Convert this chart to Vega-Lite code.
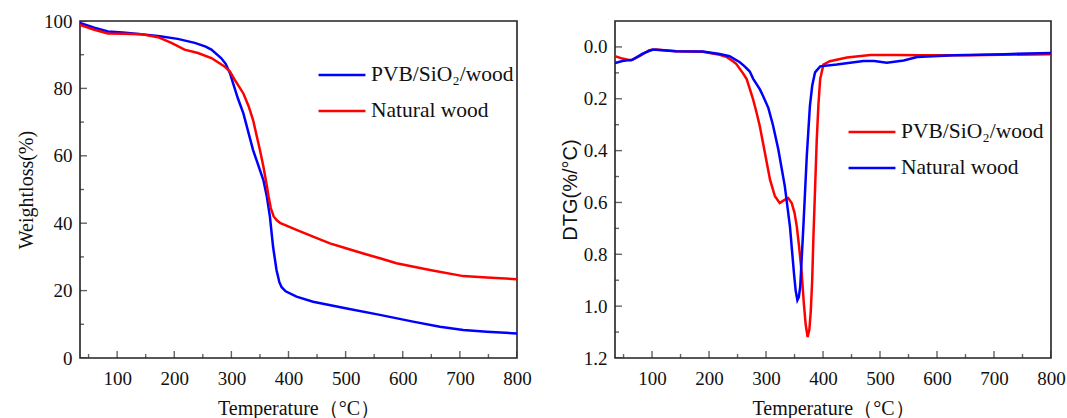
{
  "$schema": "https://vega.github.io/schema/vega-lite/v6.json",
  "background": "white",
  "padding": {"left": 15, "top": 11, "right": 5, "bottom": 0},
  "config": {
    "view": {"stroke": "#222", "strokeWidth": 1.6},
    "font": "Liberation Serif",
    "axis": {"domain": false, "ticks": false, "labelFont": "Liberation Serif", "labelFontSize": 19, "labelColor": "#111", "titleFont": "Liberation Serif", "titleFontSize": 20, "titleFontWeight": "normal", "titleColor": "#111", "grid": false, "labelOverlap": false, "labelFlush": false},
    "legend": {"title": null, "orient": "none", "symbolType": "stroke", "symbolStrokeWidth": 2.5, "symbolSize": 2200, "labelFont": "Liberation Serif", "labelFontSize": 21.5, "labelColor": "#111", "labelOffset": 4, "rowPadding": 0, "padding": 0, "labelLimit": 300}
  },
  "datasets": {
    "xticks": [{"T": 50}, {"T": 100}, {"T": 150}, {"T": 200}, {"T": 250}, {"T": 300}, {"T": 350}, {"T": 400}, {"T": 450}, {"T": 500}, {"T": 550}, {"T": 600}, {"T": 650}, {"T": 700}, {"T": 750}, {"T": 800}],
    "wticks": [{"W": 0}, {"W": 10}, {"W": 20}, {"W": 30}, {"W": 40}, {"W": 50}, {"W": 60}, {"W": 70}, {"W": 80}, {"W": 90}, {"W": 100}],
    "vticks": [{"v": 0}, {"v": 0.1}, {"v": 0.2}, {"v": 0.3}, {"v": 0.4}, {"v": 0.5}, {"v": 0.6}, {"v": 0.7}, {"v": 0.8}, {"v": 0.9}, {"v": 1.0}, {"v": 1.1}, {"v": 1.2}],
    "tga": [
      {"T": 35, "W": 99.4, "s": "PVB/SiO₂/wood"}, {"T": 60, "W": 98.0, "s": "PVB/SiO₂/wood"}, {"T": 84, "W": 96.9, "s": "PVB/SiO₂/wood"}, {"T": 110, "W": 96.6, "s": "PVB/SiO₂/wood"}, {"T": 142, "W": 96.1, "s": "PVB/SiO₂/wood"}, {"T": 175, "W": 95.5, "s": "PVB/SiO₂/wood"}, {"T": 206, "W": 94.7, "s": "PVB/SiO₂/wood"}, {"T": 236, "W": 93.5, "s": "PVB/SiO₂/wood"}, {"T": 255, "W": 92.4, "s": "PVB/SiO₂/wood"}, {"T": 265, "W": 91.5, "s": "PVB/SiO₂/wood"}, {"T": 282, "W": 89.0, "s": "PVB/SiO₂/wood"}, {"T": 290, "W": 87.3, "s": "PVB/SiO₂/wood"}, {"T": 297.5, "W": 84.5, "s": "PVB/SiO₂/wood"}, {"T": 304, "W": 81.0, "s": "PVB/SiO₂/wood"}, {"T": 311.5, "W": 77.0, "s": "PVB/SiO₂/wood"}, {"T": 321, "W": 72.6, "s": "PVB/SiO₂/wood"}, {"T": 338, "W": 61.7, "s": "PVB/SiO₂/wood"}, {"T": 356, "W": 52.8, "s": "PVB/SiO₂/wood"}, {"T": 362, "W": 48.0, "s": "PVB/SiO₂/wood"}, {"T": 367.5, "W": 41.9, "s": "PVB/SiO₂/wood"}, {"T": 373, "W": 33.0, "s": "PVB/SiO₂/wood"}, {"T": 379, "W": 26.1, "s": "PVB/SiO₂/wood"}, {"T": 384, "W": 22.5, "s": "PVB/SiO₂/wood"}, {"T": 388, "W": 21.0, "s": "PVB/SiO₂/wood"}, {"T": 395, "W": 19.8, "s": "PVB/SiO₂/wood"}, {"T": 414, "W": 18.2, "s": "PVB/SiO₂/wood"}, {"T": 443, "W": 16.7, "s": "PVB/SiO₂/wood"}, {"T": 502, "W": 14.7, "s": "PVB/SiO₂/wood"}, {"T": 560, "W": 12.8, "s": "PVB/SiO₂/wood"}, {"T": 618, "W": 10.8, "s": "PVB/SiO₂/wood"}, {"T": 665, "W": 9.3, "s": "PVB/SiO₂/wood"}, {"T": 706, "W": 8.3, "s": "PVB/SiO₂/wood"}, {"T": 747, "W": 7.8, "s": "PVB/SiO₂/wood"}, {"T": 800, "W": 7.3, "s": "PVB/SiO₂/wood"},
      {"T": 35, "W": 98.8, "s": "Natural wood"}, {"T": 60, "W": 97.4, "s": "Natural wood"}, {"T": 84, "W": 96.3, "s": "Natural wood"}, {"T": 110, "W": 96.2, "s": "Natural wood"}, {"T": 142, "W": 96.1, "s": "Natural wood"}, {"T": 171.5, "W": 95.2, "s": "Natural wood"}, {"T": 195, "W": 93.5, "s": "Natural wood"}, {"T": 218, "W": 91.5, "s": "Natural wood"}, {"T": 241.5, "W": 90.5, "s": "Natural wood"}, {"T": 265, "W": 89.0, "s": "Natural wood"}, {"T": 288, "W": 86.5, "s": "Natural wood"}, {"T": 297.5, "W": 85.0, "s": "Natural wood"}, {"T": 305.7, "W": 82.6, "s": "Natural wood"}, {"T": 321, "W": 78.5, "s": "Natural wood"}, {"T": 330, "W": 74.8, "s": "Natural wood"}, {"T": 338, "W": 70.6, "s": "Natural wood"}, {"T": 350, "W": 61.7, "s": "Natural wood"}, {"T": 356, "W": 56.8, "s": "Natural wood"}, {"T": 361.7, "W": 51.5, "s": "Natural wood"}, {"T": 365, "W": 48.0, "s": "Natural wood"}, {"T": 369, "W": 44.5, "s": "Natural wood"}, {"T": 374, "W": 42.0, "s": "Natural wood"}, {"T": 380, "W": 40.8, "s": "Natural wood"}, {"T": 386, "W": 40.0, "s": "Natural wood"}, {"T": 414, "W": 38.0, "s": "Natural wood"}, {"T": 443, "W": 36.0, "s": "Natural wood"}, {"T": 472.5, "W": 34.0, "s": "Natural wood"}, {"T": 502, "W": 32.5, "s": "Natural wood"}, {"T": 531, "W": 31.0, "s": "Natural wood"}, {"T": 560, "W": 29.6, "s": "Natural wood"}, {"T": 589, "W": 28.1, "s": "Natural wood"}, {"T": 647.5, "W": 26.1, "s": "Natural wood"}, {"T": 706, "W": 24.3, "s": "Natural wood"}, {"T": 747, "W": 23.9, "s": "Natural wood"}, {"T": 800, "W": 23.4, "s": "Natural wood"}
    ],
    "dtg": [
      {"T": 35, "v": 0.036, "s": "PVB/SiO₂/wood"}, {"T": 48, "v": 0.045, "s": "PVB/SiO₂/wood"}, {"T": 63, "v": 0.052, "s": "PVB/SiO₂/wood"}, {"T": 78, "v": 0.036, "s": "PVB/SiO₂/wood"}, {"T": 95, "v": 0.013, "s": "PVB/SiO₂/wood"}, {"T": 107, "v": 0.010, "s": "PVB/SiO₂/wood"}, {"T": 142, "v": 0.017, "s": "PVB/SiO₂/wood"}, {"T": 189, "v": 0.019, "s": "PVB/SiO₂/wood"}, {"T": 218.7, "v": 0.030, "s": "PVB/SiO₂/wood"}, {"T": 230, "v": 0.038, "s": "PVB/SiO₂/wood"}, {"T": 242, "v": 0.055, "s": "PVB/SiO₂/wood"}, {"T": 248, "v": 0.066, "s": "PVB/SiO₂/wood"}, {"T": 260, "v": 0.103, "s": "PVB/SiO₂/wood"}, {"T": 266, "v": 0.124, "s": "PVB/SiO₂/wood"}, {"T": 271.5, "v": 0.162, "s": "PVB/SiO₂/wood"}, {"T": 277, "v": 0.200, "s": "PVB/SiO₂/wood"}, {"T": 283, "v": 0.250, "s": "PVB/SiO₂/wood"}, {"T": 289, "v": 0.305, "s": "PVB/SiO₂/wood"}, {"T": 298, "v": 0.408, "s": "PVB/SiO₂/wood"}, {"T": 307, "v": 0.512, "s": "PVB/SiO₂/wood"}, {"T": 315.6, "v": 0.576, "s": "PVB/SiO₂/wood"}, {"T": 324, "v": 0.602, "s": "PVB/SiO₂/wood"}, {"T": 333, "v": 0.589, "s": "PVB/SiO₂/wood"}, {"T": 339, "v": 0.583, "s": "PVB/SiO₂/wood"}, {"T": 345, "v": 0.602, "s": "PVB/SiO₂/wood"}, {"T": 350, "v": 0.640, "s": "PVB/SiO₂/wood"}, {"T": 354, "v": 0.693, "s": "PVB/SiO₂/wood"}, {"T": 358, "v": 0.770, "s": "PVB/SiO₂/wood"}, {"T": 362.6, "v": 0.873, "s": "PVB/SiO₂/wood"}, {"T": 366, "v": 0.980, "s": "PVB/SiO₂/wood"}, {"T": 369.5, "v": 1.070, "s": "PVB/SiO₂/wood"}, {"T": 373, "v": 1.119, "s": "PVB/SiO₂/wood"}, {"T": 376, "v": 1.090, "s": "PVB/SiO₂/wood"}, {"T": 378.5, "v": 1.020, "s": "PVB/SiO₂/wood"}, {"T": 381, "v": 0.900, "s": "PVB/SiO₂/wood"}, {"T": 383, "v": 0.744, "s": "PVB/SiO₂/wood"}, {"T": 386, "v": 0.550, "s": "PVB/SiO₂/wood"}, {"T": 389, "v": 0.357, "s": "PVB/SiO₂/wood"}, {"T": 392, "v": 0.220, "s": "PVB/SiO₂/wood"}, {"T": 395, "v": 0.124, "s": "PVB/SiO₂/wood"}, {"T": 400.7, "v": 0.068, "s": "PVB/SiO₂/wood"}, {"T": 412, "v": 0.055, "s": "PVB/SiO₂/wood"}, {"T": 442, "v": 0.041, "s": "PVB/SiO₂/wood"}, {"T": 483, "v": 0.031, "s": "PVB/SiO₂/wood"}, {"T": 530, "v": 0.031, "s": "PVB/SiO₂/wood"}, {"T": 571, "v": 0.032, "s": "PVB/SiO₂/wood"}, {"T": 659, "v": 0.032, "s": "PVB/SiO₂/wood"}, {"T": 800, "v": 0.028, "s": "PVB/SiO₂/wood"},
      {"T": 35, "v": 0.062, "s": "Natural wood"}, {"T": 48, "v": 0.054, "s": "Natural wood"}, {"T": 66, "v": 0.049, "s": "Natural wood"}, {"T": 83.6, "v": 0.026, "s": "Natural wood"}, {"T": 101, "v": 0.010, "s": "Natural wood"}, {"T": 142, "v": 0.017, "s": "Natural wood"}, {"T": 189, "v": 0.018, "s": "Natural wood"}, {"T": 218.7, "v": 0.027, "s": "Natural wood"}, {"T": 236, "v": 0.036, "s": "Natural wood"}, {"T": 254, "v": 0.059, "s": "Natural wood"}, {"T": 262, "v": 0.074, "s": "Natural wood"}, {"T": 271.5, "v": 0.095, "s": "Natural wood"}, {"T": 277.5, "v": 0.123, "s": "Natural wood"}, {"T": 289, "v": 0.163, "s": "Natural wood"}, {"T": 295, "v": 0.190, "s": "Natural wood"}, {"T": 304, "v": 0.235, "s": "Natural wood"}, {"T": 312, "v": 0.300, "s": "Natural wood"}, {"T": 321.5, "v": 0.395, "s": "Natural wood"}, {"T": 333, "v": 0.538, "s": "Natural wood"}, {"T": 342, "v": 0.693, "s": "Natural wood"}, {"T": 349, "v": 0.873, "s": "Natural wood"}, {"T": 352, "v": 0.940, "s": "Natural wood"}, {"T": 355, "v": 0.977, "s": "Natural wood"}, {"T": 357.5, "v": 0.965, "s": "Natural wood"}, {"T": 360, "v": 0.925, "s": "Natural wood"}, {"T": 365.5, "v": 0.693, "s": "Natural wood"}, {"T": 371.5, "v": 0.421, "s": "Natural wood"}, {"T": 377, "v": 0.227, "s": "Natural wood"}, {"T": 381, "v": 0.150, "s": "Natural wood"}, {"T": 386, "v": 0.098, "s": "Natural wood"}, {"T": 395, "v": 0.075, "s": "Natural wood"}, {"T": 424, "v": 0.068, "s": "Natural wood"}, {"T": 471, "v": 0.054, "s": "Natural wood"}, {"T": 490, "v": 0.054, "s": "Natural wood"}, {"T": 512, "v": 0.061, "s": "Natural wood"}, {"T": 541.6, "v": 0.052, "s": "Natural wood"}, {"T": 565, "v": 0.039, "s": "Natural wood"}, {"T": 630, "v": 0.032, "s": "Natural wood"}, {"T": 718, "v": 0.028, "s": "Natural wood"}, {"T": 800, "v": 0.023, "s": "Natural wood"}
    ]
  },
  "spacing": 98,
  "bounds": "flush",
  "resolve": {"scale": {"color": "independent"}},
  "hconcat": [
    {
      "width": 437,
      "height": 337,
      "layer": [
        {
          "data": {"name": "tga"},
          "mark": {"type": "line", "strokeWidth": 2.5, "clip": true},
          "encoding": {
            "x": {"field": "T", "type": "quantitative", "scale": {"domain": [35, 800], "nice": false, "zero": false},
              "axis": {"title": "Temperature（°C）", "values": [100, 200, 300, 400, 500, 600, 700, 800], "labelPadding": 11, "titlePadding": 10}},
            "y": {"field": "W", "type": "quantitative", "scale": {"domain": [0, 100], "nice": false},
              "axis": {"title": "Weightloss(%)", "values": [0, 20, 40, 60, 80, 100], "labelPadding": 8, "titlePadding": 7}},
            "color": {"field": "s", "type": "nominal", "scale": {"domain": ["PVB/SiO₂/wood", "Natural wood"], "range": ["#0000ff", "#ff0000"]},
              "legend": {"legendX": 237, "legendY": 29}}
          }
        },
        {
          "data": {"name": "xticks"},
          "mark": {"type": "tick", "orient": "vertical", "thickness": 1.4, "color": "#222", "clip": true},
          "encoding": {
            "x": {"field": "T", "type": "quantitative",
              "axis": {"title": "Temperature（°C）", "values": [100, 200, 300, 400, 500, 600, 700, 800], "labelPadding": 11, "titlePadding": 10}},
            "y": {"datum": 0, "type": "quantitative",
              "axis": {"title": "Weightloss(%)", "values": [0, 20, 40, 60, 80, 100], "labelPadding": 8, "titlePadding": 7}},
            "size": {"condition": {"test": "datum.T % 100 === 0", "value": 14}, "value": 8}
          }
        },
        {
          "data": {"name": "wticks"},
          "mark": {"type": "tick", "orient": "horizontal", "thickness": 1.4, "color": "#222", "clip": true},
          "encoding": {
            "y": {"field": "W", "type": "quantitative",
              "axis": {"title": "Weightloss(%)", "values": [0, 20, 40, 60, 80, 100], "labelPadding": 8, "titlePadding": 7}},
            "x": {"datum": 35, "type": "quantitative",
              "axis": {"title": "Temperature（°C）", "values": [100, 200, 300, 400, 500, 600, 700, 800], "labelPadding": 11, "titlePadding": 10}},
            "size": {"condition": {"test": "datum.W % 20 === 0", "value": 14}, "value": 8}
          }
        }
      ]
    },
    {
      "width": 436,
      "height": 337,
      "layer": [
        {
          "data": {"name": "dtg"},
          "mark": {"type": "line", "strokeWidth": 2.5, "clip": true},
          "encoding": {
            "x": {"field": "T", "type": "quantitative", "scale": {"domain": [35, 800], "nice": false, "zero": false},
              "axis": {"title": "Temperature（°C）", "values": [100, 200, 300, 400, 500, 600, 700, 800], "labelPadding": 11, "titlePadding": 10}},
            "y": {"field": "v", "type": "quantitative", "scale": {"domain": [-0.1, 1.2], "nice": false, "zero": false, "reverse": true},
              "axis": {"title": "DTG(%/°C)", "titleFont": "Liberation Sans", "values": [0, 0.2, 0.4, 0.6, 0.8, 1.0, 1.2], "format": ".1f", "labelPadding": 8, "titlePadding": 3}},
            "color": {"field": "s", "type": "nominal", "scale": {"domain": ["PVB/SiO₂/wood", "Natural wood"], "range": ["#ff0000", "#0000ff"]},
              "legend": {"legendX": 232, "legendY": 86}}
          }
        },
        {
          "data": {"name": "xticks"},
          "mark": {"type": "tick", "orient": "vertical", "thickness": 1.4, "color": "#222", "clip": true},
          "encoding": {
            "x": {"field": "T", "type": "quantitative",
              "axis": {"title": "Temperature（°C）", "values": [100, 200, 300, 400, 500, 600, 700, 800], "labelPadding": 11, "titlePadding": 10}},
            "y": {"datum": 1.2, "type": "quantitative",
              "axis": {"title": "DTG(%/°C)", "titleFont": "Liberation Sans", "values": [0, 0.2, 0.4, 0.6, 0.8, 1.0, 1.2], "format": ".1f", "labelPadding": 8, "titlePadding": 3}},
            "size": {"condition": {"test": "datum.T % 100 === 0", "value": 14}, "value": 8}
          }
        },
        {
          "data": {"name": "vticks"},
          "mark": {"type": "tick", "orient": "horizontal", "thickness": 1.4, "color": "#222", "clip": true},
          "encoding": {
            "y": {"field": "v", "type": "quantitative",
              "axis": {"title": "DTG(%/°C)", "titleFont": "Liberation Sans", "values": [0, 0.2, 0.4, 0.6, 0.8, 1.0, 1.2], "format": ".1f", "labelPadding": 8, "titlePadding": 3}},
            "x": {"datum": 35, "type": "quantitative",
              "axis": {"title": "Temperature（°C）", "values": [100, 200, 300, 400, 500, 600, 700, 800], "labelPadding": 11, "titlePadding": 10}},
            "size": {"condition": {"test": "round(datum.v * 10) % 2 === 0", "value": 14}, "value": 8}
          }
        }
      ]
    }
  ]
}
